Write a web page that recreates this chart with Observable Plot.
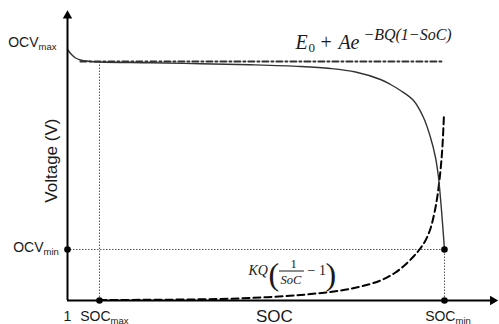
<!DOCTYPE html>
<html>
<head>
<meta charset="utf-8">
<script src="https://cdn.jsdelivr.net/npm/d3@7"></script>
<script src="https://cdn.jsdelivr.net/npm/@observablehq/plot@0.6"></script>
<style>
  html, body { margin: 0; padding: 0; background: #fff; }
  #chart svg { display: block; }
</style>
</head>
<body>
<div id="chart"></div>
<script>
// ---- data (abstract units: x = discharged capacity, y = voltage) ----
const solidX = [0, 0.93, 1.86, 3.02, 4.88, 7.44, 19.3, 30.93, 42.56, 54.19, 61.16, 66.98, 72.79, 75.12, 77.44, 80.47, 82.79, 84.42, 85.58, 86.28, 86.98, 87.67];
const solidV = [85.96, 84.25, 83.05, 82.36, 81.92, 81.68, 81.4, 81.1, 80.72, 80.14, 79.45, 78.25, 75.68, 73.97, 71.92, 68.49, 62.67, 55.82, 48.97, 42.12, 30.82, 17.47];

const polX = [7.44, 19.3, 30.93, 42.56, 54.19, 63.49, 68.14, 72.79, 76.28, 78.6, 80.47, 81.86, 83.26, 84.42, 85.35, 86.05, 86.74, 87.21, 87.56];
const polV = [0.17, 0.24, 0.41, 0.86, 1.88, 3.42, 4.79, 6.85, 9.59, 12.33, 15.07, 17.47, 20.55, 24.66, 30.14, 35.96, 44.52, 53.08, 64.04];

const expX = [3, 87.5];
const expV = [81.85, 81.85];

const socMax = 7.44;
const socMin = 87.67;
const ocvMax = 85.96;
const ocvMin = 17.47;

const xTickLabels = ["1", "SOC", "SOC"];
const xTickSubs = ["", "max", "min"];
const yTickLabels = ["OCV", "OCV"];
const yTickSubs = ["max", "min"];

// annotation anchors (data units)
const expNote = [{x: 53, y: 86}];
const polNote = [{x: 42.1, y: 8.9}];
const fracBar = [{x1: 49.3, x2: 55.1, y: 10.1}];

const solid = solidX.map((x, i) => ({x, y: solidV[i]}));
const pol = polX.map((x, i) => ({x, y: polV[i]}));
const expo = expX.map((x, i) => ({x, y: expV[i]}));

const sans = "'Liberation Sans', Arial, sans-serif";
const serif = "'Liberation Serif', 'Times New Roman', serif";
const ink = "#1a1a1a";

function piece(anchor, text, o) {
  return Plot.text(anchor, {
    x: "x", y: "y", text: () => text,
    textAnchor: o.anchor || "start", lineAnchor: "bottom",
    dx: o.dx || 0, dy: o.dy || 0,
    fontSize: o.size, fontStyle: o.italic ? "italic" : "normal",
    fontFamily: o.family || serif, fill: ink
  });
}

const chart = Plot.plot({
  width: 499,
  height: 324,
  marginTop: 8,
  marginRight: 2,
  marginBottom: 24,
  marginLeft: 67,
  x: {domain: [0, 100], axis: null},
  y: {domain: [0, 100], axis: null},
  style: {background: "#fff", overflow: "visible"},
  marks: [
    // reference dotted lines
    Plot.ruleX([socMax], {y1: 0, y2: solidV[5], stroke: "#555", strokeWidth: 1, strokeDasharray: "1.5,1.5"}),
    Plot.ruleY([ocvMin], {x1: 0, x2: socMin, stroke: "#555", strokeWidth: 1, strokeDasharray: "1.5,1.5"}),
    Plot.ruleX([socMin], {y1: 0, y2: ocvMin, stroke: "#555", strokeWidth: 1, strokeDasharray: "1.5,1.5"}),
    // curves
    Plot.line(expo, {x: "x", y: "y", stroke: "#333", strokeWidth: 2, strokeDasharray: "6,3,2,3"}),
    Plot.line(pol, {x: "x", y: "y", stroke: "#000", strokeWidth: 2, strokeDasharray: "7,4", curve: "catmull-rom"}),
    Plot.line(solid, {x: "x", y: "y", stroke: "#333", strokeWidth: 1.4, curve: "catmull-rom"}),
    // axes with arrowheads
    Plot.ruleX([0], {y1: 0, y2: 97.5, stroke: "#000", strokeWidth: 2}),
    Plot.ruleY([0], {x1: 0, x2: 98.9, stroke: "#000", strokeWidth: 2}),
    Plot.dot([{x: 0, y: 97.5}], {x: "x", y: "y", symbol: "triangle2", r: 4.5, fill: "#000", stroke: null}),
    Plot.dot([{x: 98.9, y: 0}], {x: "x", y: "y", symbol: "triangle2", r: 4.5, fill: "#000", stroke: null, rotate: 90}),
    // key points
    Plot.dot([{x: 0, y: ocvMin}, {x: socMax, y: 0}, {x: socMin, y: ocvMin}, {x: socMin, y: 0}],
      {x: "x", y: "y", r: 3.3, fill: "#000", stroke: null}),
    // y tick labels
    Plot.text([{y: ocvMax, t: yTickLabels[0]}], {x: 0, y: "y", text: "t", textAnchor: "end", lineAnchor: "bottom", dx: -29, dy: -2, fontSize: 14, fontFamily: sans, fill: ink}),
    Plot.text([{y: ocvMax, t: yTickSubs[0]}], {x: 0, y: "y", text: "t", textAnchor: "start", lineAnchor: "bottom", dx: -29, dy: 1, fontSize: 9.5, fontFamily: sans, fill: ink}),
    Plot.text([{y: ocvMin, t: yTickLabels[1]}], {x: 0, y: "y", text: "t", textAnchor: "end", lineAnchor: "bottom", dx: -24, dy: 3, fontSize: 14, fontFamily: sans, fill: ink}),
    Plot.text([{y: ocvMin, t: yTickSubs[1]}], {x: 0, y: "y", text: "t", textAnchor: "start", lineAnchor: "bottom", dx: -24, dy: 6, fontSize: 9.5, fontFamily: sans, fill: ink}),
    // x tick labels
    Plot.text([{x: 0, t: xTickLabels[0]}], {x: "x", y: 0, text: "t", textAnchor: "middle", lineAnchor: "bottom", dy: 20, fontSize: 14, fontFamily: sans, fill: ink}),
    Plot.text([{x: socMax, t: xTickLabels[1]}, {x: socMin, t: xTickLabels[2]}], {x: "x", y: 0, text: "t", textAnchor: "end", lineAnchor: "bottom", dx: 11, dy: 20, fontSize: 14, fontFamily: sans, fill: ink}),
    Plot.text([{x: socMax, t: xTickSubs[1]}, {x: socMin, t: xTickSubs[2]}], {x: "x", y: 0, text: "t", textAnchor: "start", lineAnchor: "bottom", dx: 11, dy: 23, fontSize: 9.5, fontFamily: sans, fill: ink}),
    // axis titles
    Plot.text(["SOC"], {x: 48.1, y: 0, text: d => d, textAnchor: "middle", lineAnchor: "bottom", dy: 21, fontSize: 17, fontFamily: sans, fill: ink}),
    Plot.text(["Voltage (V)"], {x: 0, y: 47.9, text: d => d, rotate: -90, textAnchor: "middle", dx: -16, fontSize: 17, fontFamily: sans, fill: ink}),
    // exponential-zone formula
    piece(expNote, "E", {size: 20, italic: true}),
    piece(expNote, "0", {size: 13, dx: 13, dy: 3}),
    piece(expNote, "+", {size: 20, dx: 25}),
    piece(expNote, "Ae", {size: 20, italic: true, dx: 43}),
    piece(expNote, "\u2212BQ(1\u2212SoC)", {size: 16, italic: true, dx: 68, dy: -9}),
    // polarization formula
    piece(polNote, "KQ", {size: 14, italic: true}),
    piece(polNote, "(", {size: 32, dx: 20, dy: 10}),
    piece(polNote, "1", {size: 12.5, dx: 42, dy: -7}),
    Plot.ruleY(fracBar, {x1: "x1", x2: "x2", y: "y", stroke: ink, strokeWidth: 1}),
    piece(polNote, "SoC", {size: 12.5, italic: true, dx: 32, dy: 9}),
    piece(polNote, "\u2212 1", {size: 14, dx: 59}),
    piece(polNote, ")", {size: 32, dx: 77, dy: 10})
  ]
});

document.getElementById("chart").appendChild(chart);
</script>
</body>
</html>
